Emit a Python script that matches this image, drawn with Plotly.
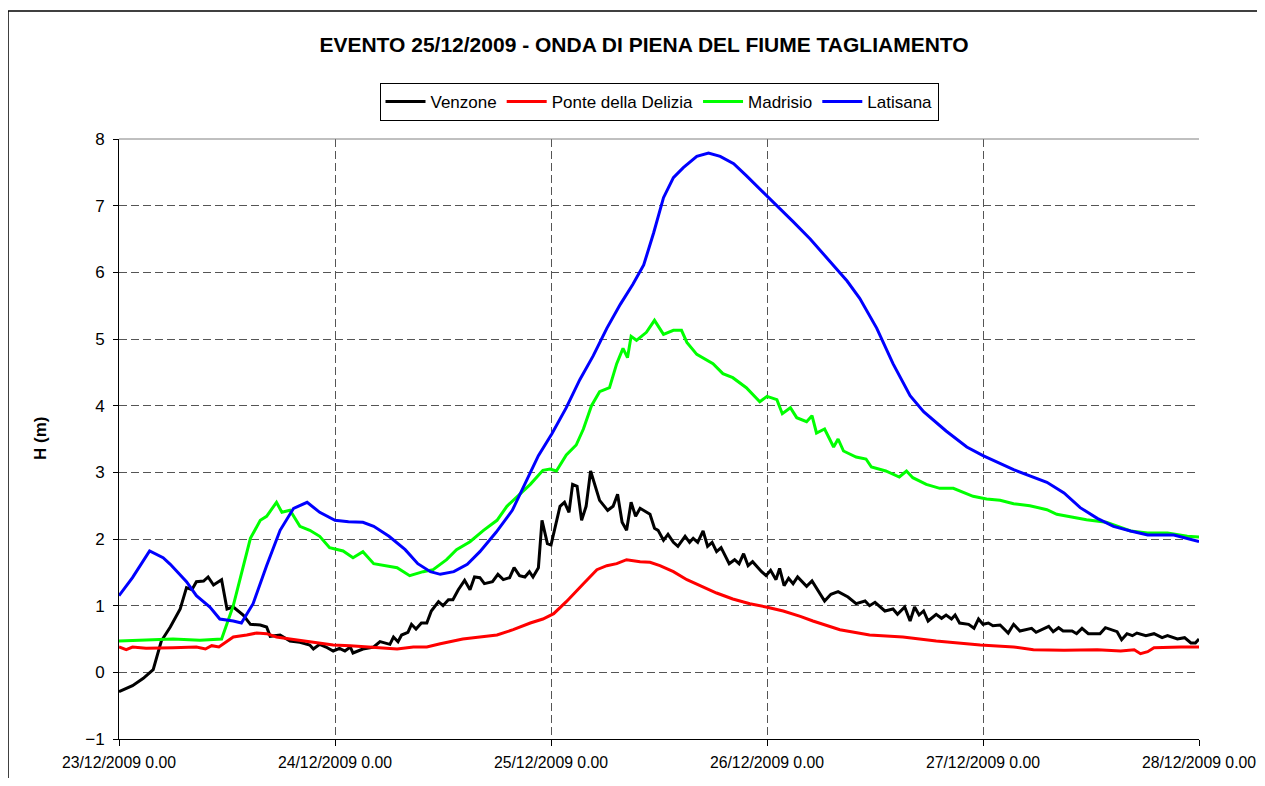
import plotly.graph_objects as go

# ---- Data (hours from 23/12/2009 0.00, water level H in m) ----
tick_hours = [0, 24, 48, 72, 96, 120]
tick_labels = ["23/12/2009 0.00", "24/12/2009 0.00", "25/12/2009 0.00",
               "26/12/2009 0.00", "27/12/2009 0.00", "28/12/2009 0.00"]
y_ticks = [-1, 0, 1, 2, 3, 4, 5, 6, 7, 8]

venzone_h = [0, 1.5, 2.7, 3.8, 4.7, 5.7, 6.8, 7.5, 8.1, 8.6, 9.4, 9.9, 10.5, 11.4, 12.0, 12.7,
             13.8, 14.6, 15.7, 16.4, 16.8, 17.9, 19.0, 20.1, 21.2, 21.6, 22.3, 23.0, 23.8, 24.5,
             25.1, 25.7, 26.0, 27.1, 28.3, 29.0, 30.1, 30.5, 31.0, 31.4, 32.1, 32.5, 33.0, 33.6,
             34.2, 34.7, 35.5, 36.0, 36.6, 37.1, 37.7, 38.4, 39.0, 39.5, 40.1, 40.6, 41.5, 42.1,
             42.7, 43.4, 43.9, 44.5, 45.1, 45.6, 46.0, 46.6, 47.0, 47.6, 48.0, 49.0, 49.5, 50.0,
             50.4, 50.9, 51.4, 51.9, 52.4, 53.4, 54.3, 54.9, 55.4, 55.9, 56.4, 56.9, 57.4, 57.9,
             59.0, 59.5, 59.9, 60.5, 61.0, 61.6, 62.1, 62.9, 63.4, 63.8, 64.3, 64.9, 65.4, 65.9,
             66.4, 66.9, 67.8, 68.4, 68.9, 69.4, 69.9, 70.4, 71.4, 71.9, 72.4, 73.0, 73.4, 73.9,
             74.4, 74.9, 75.4, 76.4, 77.0, 77.6, 78.4, 79.1, 79.9, 81.0, 81.9, 82.9, 83.4, 84.0,
             85.1, 86.0, 86.5, 87.3, 87.9, 88.4, 88.9, 89.4, 89.9, 90.8, 91.4, 91.9, 92.5, 92.9,
             93.4, 94.4, 95.0, 95.5, 96.0, 96.6, 97.1, 97.9, 98.8, 99.4, 100.1, 101.4, 101.9,
             103.3, 103.8, 104.4, 104.9, 105.9, 106.4, 107.0, 107.7, 109.0, 109.6, 110.9, 111.4,
             112.0, 112.6, 113.1, 114.1, 115.0, 115.9, 116.5, 117.6, 118.4, 119.1, 119.6, 120]
venzone_v = [-0.29, -0.20, -0.09, 0.04, 0.47, 0.68, 0.95, 1.27, 1.24, 1.36, 1.37, 1.43, 1.31, 1.39,
             0.95, 0.98, 0.86, 0.72, 0.71, 0.68, 0.54, 0.56, 0.47, 0.45, 0.41, 0.35, 0.42, 0.38,
             0.32, 0.36, 0.32, 0.38, 0.29, 0.35, 0.38, 0.46, 0.42, 0.53, 0.46, 0.56, 0.60, 0.72,
             0.65, 0.74, 0.74, 0.92, 1.06, 1.00, 1.09, 1.09, 1.24, 1.38, 1.24, 1.43, 1.42, 1.33,
             1.36, 1.47, 1.39, 1.42, 1.57, 1.45, 1.43, 1.51, 1.43, 1.57, 2.28, 1.93, 1.91, 2.49,
             2.55, 2.40, 2.82, 2.79, 2.28, 2.49, 3.02, 2.58, 2.43, 2.49, 2.67, 2.25, 2.13, 2.55,
             2.34, 2.46, 2.37, 2.16, 2.13, 1.98, 2.07, 1.95, 1.89, 2.04, 1.95, 2.01, 1.95, 2.12,
             1.89, 1.95, 1.81, 1.87, 1.63, 1.69, 1.63, 1.78, 1.60, 1.66, 1.51, 1.45, 1.53, 1.39,
             1.56, 1.30, 1.41, 1.33, 1.43, 1.29, 1.37, 1.24, 1.07, 1.17, 1.21, 1.13, 1.03, 1.07,
             1.00, 1.05, 0.92, 0.95, 0.87, 0.98, 0.77, 0.98, 0.86, 0.92, 0.77, 0.87, 0.81, 0.86,
             0.80, 0.86, 0.74, 0.72, 0.66, 0.80, 0.72, 0.74, 0.70, 0.71, 0.59, 0.72, 0.62, 0.66,
             0.60, 0.69, 0.61, 0.67, 0.62, 0.62, 0.58, 0.66, 0.58, 0.58, 0.67, 0.61, 0.49, 0.58,
             0.55, 0.59, 0.55, 0.58, 0.52, 0.55, 0.50, 0.52, 0.44, 0.44, 0.50]

delizia_h = [0, 0.8, 1.5, 3.0, 6.0, 8.6, 9.6, 10.3, 11.1, 12.0, 12.7, 14.2, 15.3, 16.4, 17.5, 19.0,
             20.5, 21.9, 23.8, 25.7, 27.9, 30.9, 32.7, 34.2, 35.7, 38.2, 40.1, 42.0, 43.8, 45.7,
             47.1, 48.3, 49.7, 50.8, 51.6, 53.1, 54.2, 55.3, 56.4, 57.9, 59.0, 60.1, 61.6, 63.1,
             64.5, 66.4, 68.2, 70.1, 71.9, 73.8, 75.7, 77.1, 80.1, 83.4, 87.1, 90.8, 95.7, 99.4,
             101.6, 105.0, 108.7, 111.3, 112.8, 113.5, 114.3, 115.0, 118.0, 120]
delizia_v = [0.38, 0.34, 0.38, 0.36, 0.37, 0.38, 0.35, 0.40, 0.38, 0.47, 0.53, 0.56, 0.59, 0.58,
             0.53, 0.50, 0.47, 0.44, 0.41, 0.40, 0.38, 0.35, 0.38, 0.38, 0.43, 0.50, 0.53, 0.56,
             0.64, 0.74, 0.80, 0.88, 1.06, 1.21, 1.33, 1.54, 1.60, 1.63, 1.69, 1.66, 1.65, 1.60,
             1.51, 1.39, 1.31, 1.19, 1.10, 1.03, 0.98, 0.92, 0.84, 0.77, 0.64, 0.56, 0.53, 0.47,
             0.41, 0.38, 0.34, 0.33, 0.34, 0.32, 0.34, 0.28, 0.31, 0.37, 0.38, 0.38]

madrisio_h = [0, 3, 6, 9, 11.2, 11.4, 12.7, 14.6, 15.7, 16.4, 17.5, 18.1, 19.0, 20.1, 21.2, 22.3,
              23.4, 24.9, 26.0, 27.1, 28.3, 29.4, 30.9, 32.3, 33.8, 34.9, 36.4, 37.5, 39.0, 40.5,
              42.0, 43.1, 44.5, 45.7, 47.1, 47.9, 48.6, 49.7, 50.8, 51.6, 52.5, 53.4, 54.5, 55.3,
              56.0, 56.5, 56.9, 57.5, 58.6, 59.5, 60.5, 61.6, 62.5, 63.1, 64.2, 65.3, 66.0, 67.1,
              68.2, 69.7, 71.2, 72.0, 73.1, 73.7, 74.6, 75.3, 76.4, 77.0, 77.5, 78.4, 79.4, 79.9,
              80.5, 81.9, 83.0, 83.6, 85.2, 86.7, 87.5, 88.2, 89.7, 91.2, 92.7, 94.9, 96.4, 97.9,
              99.4, 101.2, 103.1, 104.2, 105.3, 107.5, 109.7, 112.4, 114.3, 116.5, 118.7, 120]
madrisio_v = [0.47, 0.48, 0.50, 0.48, 0.50, 0.50, 1.00, 2.01, 2.28, 2.34, 2.55, 2.40, 2.43, 2.19,
              2.13, 2.04, 1.87, 1.82, 1.72, 1.81, 1.63, 1.60, 1.57, 1.45, 1.51, 1.54, 1.69, 1.84,
              1.96, 2.13, 2.28, 2.49, 2.67, 2.82, 3.03, 3.05, 3.02, 3.26, 3.41, 3.65, 4.00, 4.21,
              4.27, 4.63, 4.86, 4.72, 5.04, 4.98, 5.10, 5.28, 5.07, 5.13, 5.13, 4.95, 4.77, 4.69,
              4.63, 4.48, 4.42, 4.27, 4.06, 4.14, 4.09, 3.88, 3.97, 3.82, 3.76, 3.85, 3.59, 3.65,
              3.38, 3.50, 3.32, 3.23, 3.20, 3.08, 3.02, 2.93, 3.02, 2.92, 2.82, 2.76, 2.76, 2.64,
              2.60, 2.58, 2.53, 2.50, 2.44, 2.37, 2.34, 2.29, 2.25, 2.12, 2.09, 2.09, 2.04, 2.03]

latisana_h = [0, 1.5, 3.4, 4.9, 5.7, 7.5, 8.6, 10.1, 11.2, 12.7, 13.6, 14.9, 16.4, 17.9, 19.4,
              20.9, 22.3, 24.0, 25.5, 27.1, 28.3, 30.0, 31.8, 33.2, 34.6, 35.7, 37.2, 38.7, 40.1,
              41.9, 43.7, 45.2, 46.6, 48.1, 49.7, 51.2, 52.7, 54.2, 55.7, 57.1, 58.3, 59.4, 60.5,
              61.6, 62.7, 64.2, 65.5, 66.8, 68.3, 69.7, 72.0, 74.9, 76.8, 78.6, 80.9, 82.3, 84.2,
              86.0, 87.9, 89.4, 91.9, 94.2, 96.0, 99.4, 103.1, 105.0, 106.8, 108.7, 110.5, 112.4,
              114.3, 117.2, 120]
latisana_v = [1.15, 1.42, 1.82, 1.72, 1.62, 1.36, 1.15, 0.98, 0.80, 0.77, 0.74, 1.03, 1.60, 2.13,
              2.46, 2.55, 2.40, 2.28, 2.26, 2.25, 2.19, 2.04, 1.84, 1.63, 1.51, 1.47, 1.51, 1.62,
              1.81, 2.10, 2.43, 2.85, 3.25, 3.58, 3.97, 4.39, 4.75, 5.16, 5.52, 5.82, 6.11, 6.59,
              7.12, 7.42, 7.57, 7.74, 7.79, 7.74, 7.63, 7.45, 7.15, 6.76, 6.50, 6.23, 5.87, 5.61,
              5.16, 4.63, 4.15, 3.91, 3.62, 3.38, 3.25, 3.04, 2.85, 2.69, 2.47, 2.31, 2.19, 2.12,
              2.06, 2.06, 1.96]

FONT = "Liberation Sans, Arial, sans-serif"

# page has an 8px body margin, so the figure sits at (8, 8) and must fit in 1265x786
W, H = 1249, 770
L, T = 111, 131          # plot area left/top inside the figure
PW, PH = 1080, 600       # plot area size

fig = go.Figure()
series = [("Venzone", venzone_h, venzone_v, "#000000"),
          ("Ponte della Delizia", delizia_h, delizia_v, "#FF0000"),
          ("Madrisio", madrisio_h, madrisio_v, "#00FF00"),
          ("Latisana", latisana_h, latisana_v, "#0000FF")]
for name, xs, ys, col in series:
    fig.add_trace(go.Scatter(x=xs, y=ys, mode="lines", name=name,
                             line=dict(color=col, width=3)))

def px_x(p):  # page pixel -> paper x
    return (p - 8 - L) / PW

def px_y(p):  # page pixel -> paper y
    return (T + PH - (p - 8)) / PH

fig.update_layout(
    width=W, height=H,
    margin=dict(l=L, r=W - L - PW, t=T, b=H - T - PH, autoexpand=False),
    paper_bgcolor="white", plot_bgcolor="white",
    font=dict(family=FONT, size=17, color="black"),
    title=dict(text="<b>EVENTO 25/12/2009 - ONDA DI PIENA DEL FIUME TAGLIAMENTO</b>",
               x=(644 - 8) / W, xref="container", xanchor="center",
               y=1 - (45 - 8) / H, yref="container", yanchor="middle",
               font=dict(family=FONT, size=21, color="black")),
    legend=dict(orientation="h", x=0.5, xanchor="center", y=px_y(83), yanchor="top",
                bordercolor="black", borderwidth=1, bgcolor="white",
                font=dict(family=FONT, size=17), itemwidth=40,
                tracegroupgap=0),
    showlegend=True,
)
fig.update_xaxes(range=[0, 120], tickvals=tick_hours, ticktext=tick_labels,
                 showline=True, linecolor="black", linewidth=1, automargin=False,
                 ticks="outside", ticklen=6, tickcolor="black", ticklabeloverflow="allow",
                 showgrid=True, gridcolor="#555555", griddash="8px,4px", gridwidth=1,
                 zeroline=False, tickfont=dict(family=FONT, size=15.8), ticklabelstandoff=3)
fig.update_yaxes(range=[-1, 8], tickvals=y_ticks, automargin=False,
                 showline=True, linecolor="black", linewidth=1,
                 ticks="outside", ticklen=5, tickcolor="black",
                 showgrid=True, gridcolor="#555555", griddash="8px,4px", gridwidth=1,
                 zeroline=False, tickfont=dict(family=FONT, size=17), ticklabelstandoff=5)

fig.add_annotation(text="<b>H (m)</b>", textangle=-90, xref="paper", yref="paper",
                   x=px_x(40), y=0.5, xanchor="center", yanchor="middle",
                   showarrow=False, font=dict(family=FONT, size=17, color="black"))

# plot area top border
fig.add_shape(type="line", xref="paper", yref="paper", x0=0, x1=1, y0=1, y1=1,
              line=dict(color="#808080", width=1))
# outer chart border: only its top and left edges are inside the view
fig.add_shape(type="line", xref="paper", yref="paper",
              x0=px_x(8), x1=px_x(1290), y0=px_y(11), y1=px_y(11),
              line=dict(color="black", width=1.5))
fig.add_shape(type="line", xref="paper", yref="paper",
              x0=px_x(8), x1=px_x(8), y0=px_y(11), y1=px_y(800),
              line=dict(color="black", width=1.5))

fig.write_html("out.html")
